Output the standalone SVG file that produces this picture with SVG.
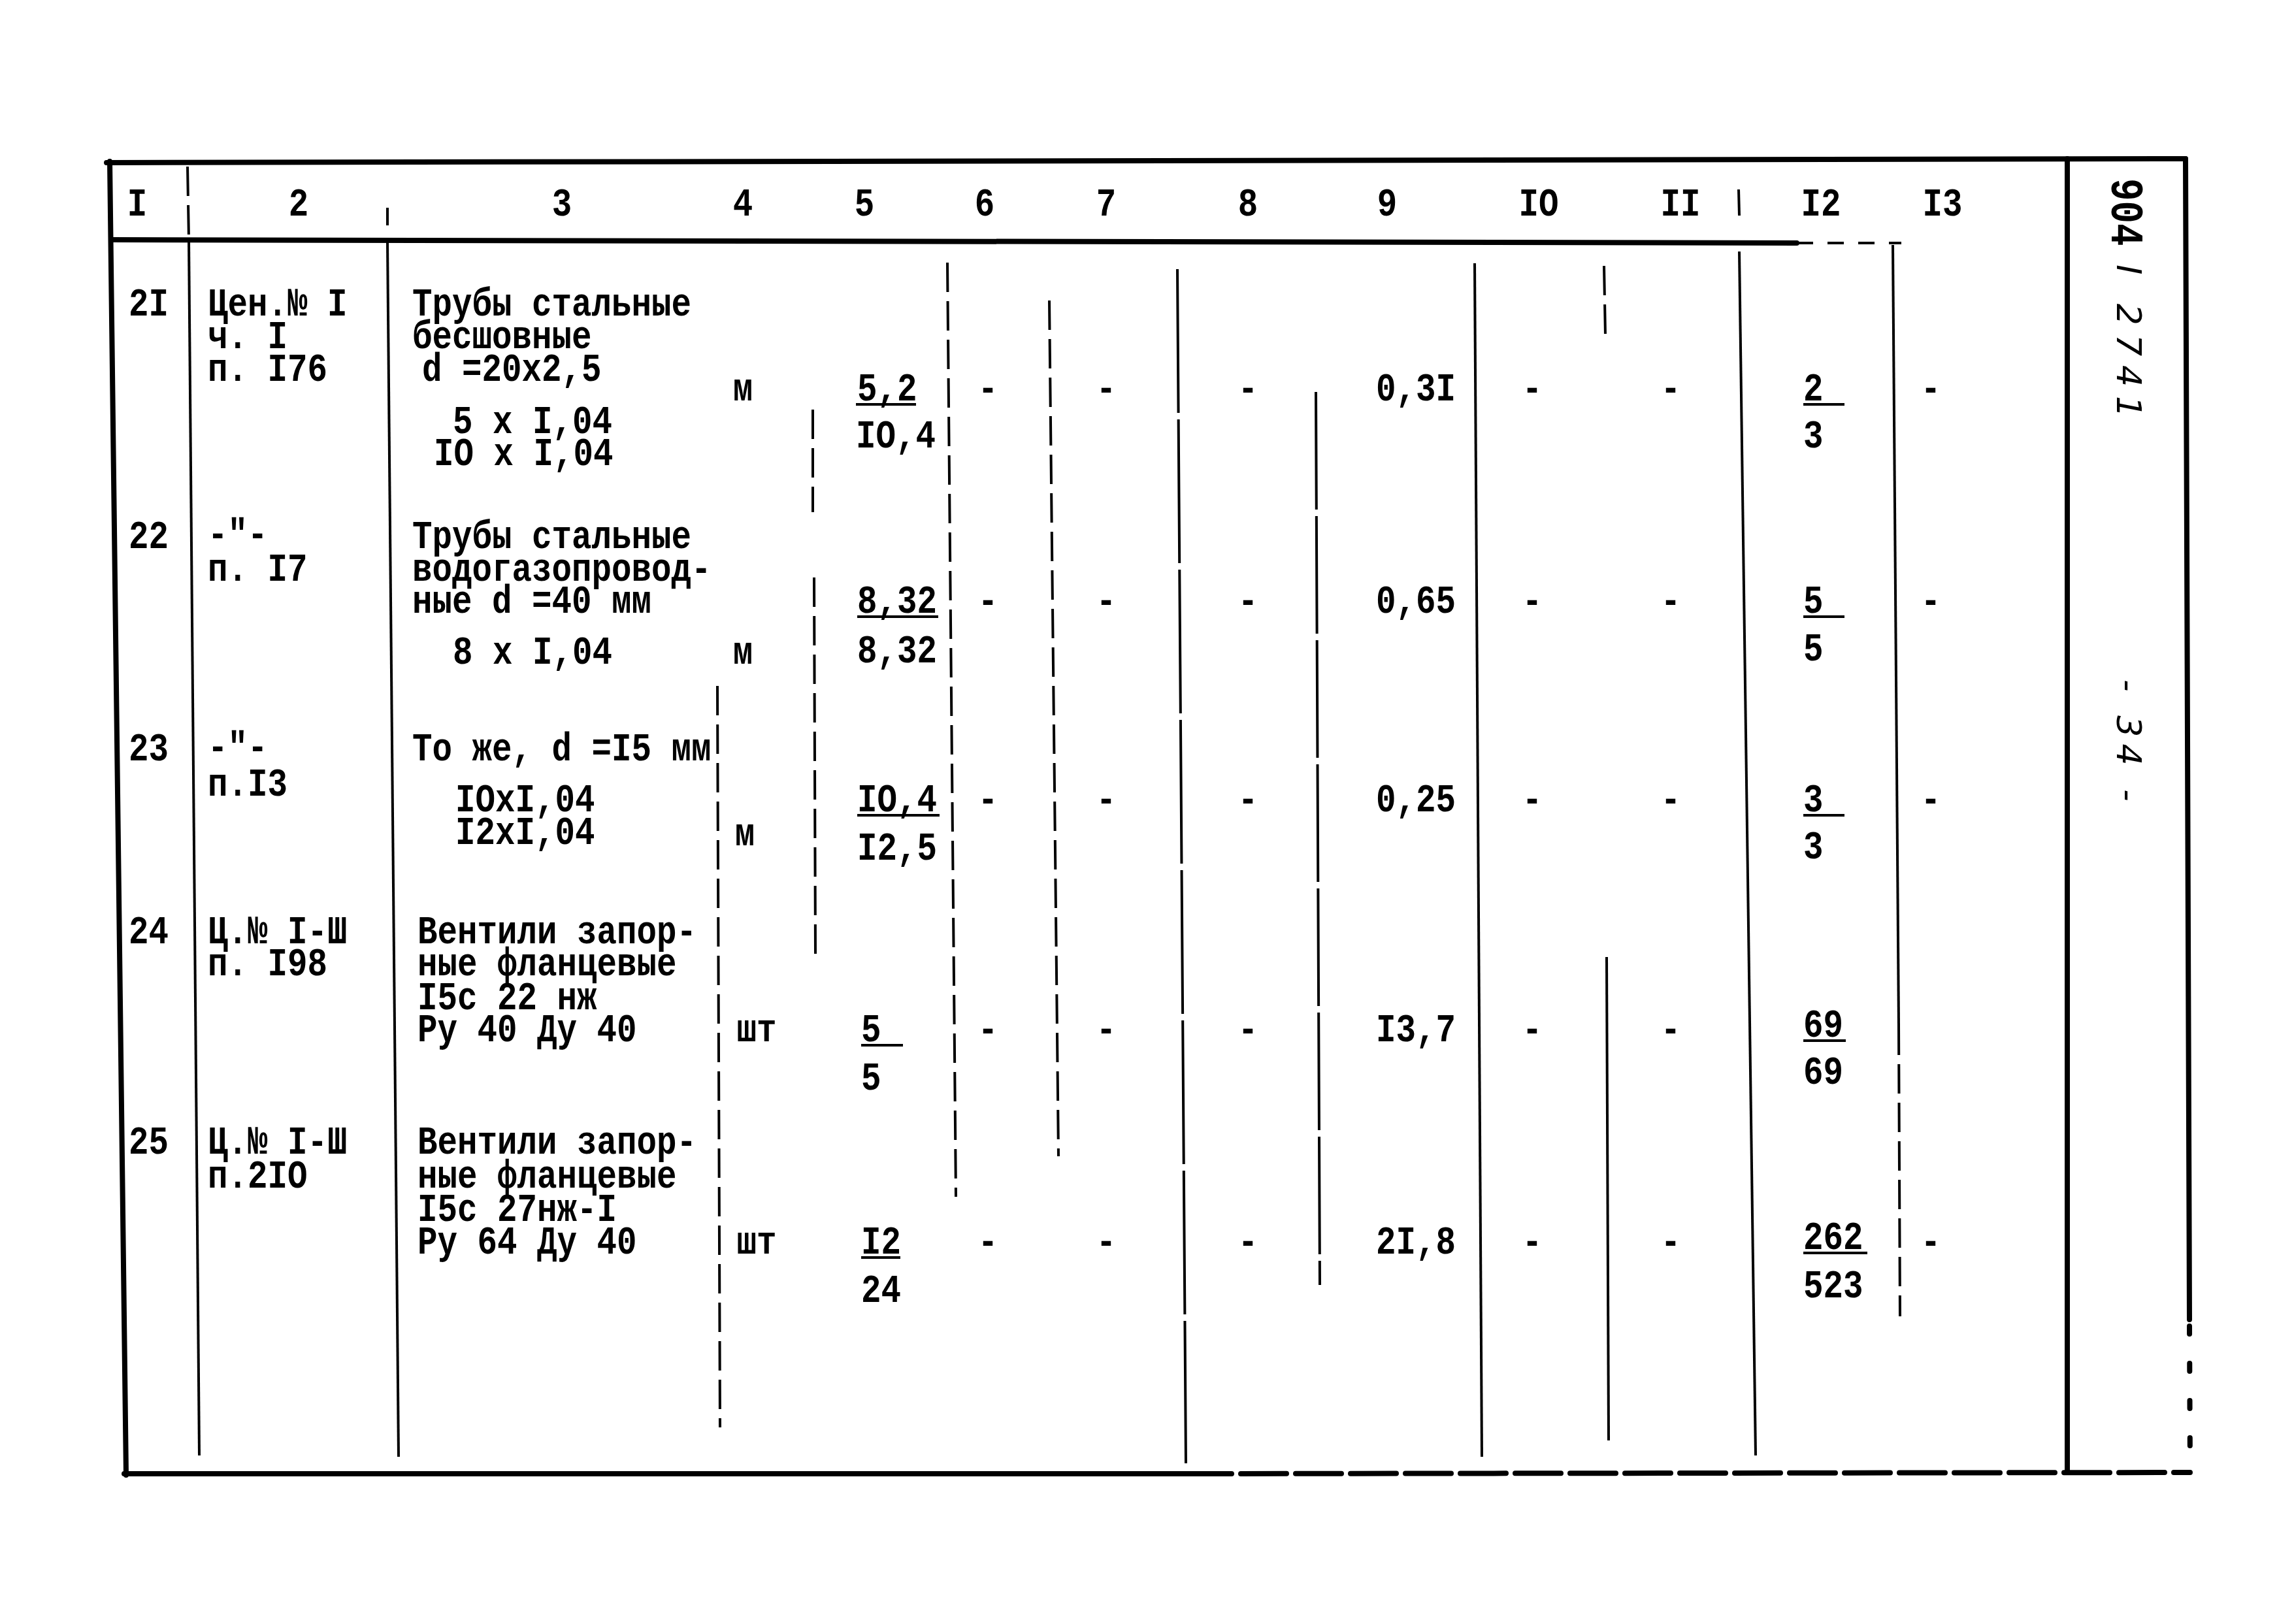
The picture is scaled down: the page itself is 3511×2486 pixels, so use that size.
<svg xmlns="http://www.w3.org/2000/svg" width="3511" height="2486" viewBox="0 0 3511 2486">
<style>
.t{font-family:"Liberation Mono","DejaVu Sans Mono",monospace;font-size:62px;font-weight:bold;fill:#000}
.m{text-anchor:middle}
.e{text-anchor:end}
.hw{font-family:"DejaVu Sans","Liberation Sans",sans-serif;font-size:52px;font-style:italic;font-weight:normal;fill:#000}
.fr{stroke:#000;stroke-width:8;fill:none;stroke-linecap:round}
.ln{stroke:#000;stroke-width:4;fill:none}
.ds{stroke:#000;stroke-width:4;fill:none;stroke-dasharray:45 14}
.ul{stroke:#000;stroke-width:4}
</style>
<rect width="3511" height="2486" fill="#fff"/>
<g id="grid">
<path class="fr" d="M163 249 L3345 243"/>
<path class="fr" d="M168 247 L193 2258"/>
<path class="fr" d="M190 2256 L1815 2256"/>
<path class="fr" d="M1815 2256 L3352 2254" stroke-dasharray="70 14" stroke-width="6"/>
<path class="fr" d="M3345 243 L3351 2020" stroke-width="7"/>
<path class="fr" d="M3351 2030 L3352 2250" stroke-dasharray="12 45" stroke-width="6"/>
<path class="fr" d="M3164 243 L3164 2252" stroke-width="7"/>
<path class="fr" d="M170 367 L2750 372" stroke-width="6"/>
<path class="ln" d="M2750 372 L2910 372" stroke-dasharray="25 22"/>
<path class="ds" d="M287 255 L289 367"/>
<path class="ln" d="M289 367 L305 2228"/>
<path class="ln" d="M593 318 L593 345"/>
<path class="ln" d="M593 370 L610 2230"/>
<path class="ds" d="M1244 627 L1244 784"/>
<path class="ds" d="M1246 884 L1248 1460"/>
<path class="ds" d="M1098 1050 L1102 2185"/>
<path class="ds" d="M1450 402 L1463 1832"/>
<path class="ds" d="M1606 460 L1620 1770" stroke-dasharray="60 30"/>
<path class="ln" d="M1802 412 L1815 2240" stroke-dasharray="220 10"/>
<path class="ln" d="M2014 600 L2020 1967" stroke-dasharray="180 10"/>
<path class="ln" d="M2257 403 L2268 2230"/>
<path class="ds" d="M2455 407 L2457 513"/>
<path class="ln" d="M2459 1465 L2462 2205"/>
<path class="ln" d="M2661 290 L2662 330"/>
<path class="ln" d="M2662 385 L2687 2228"/>
<path class="ln" d="M2897 375 L2906 1570"/>
<path class="ds" d="M2906 1570 L2908 2015" stroke-dasharray="20 40"/>
</g>
<g id="header">
<text class="t m" transform="translate(210 330) scale(.82 1)">I</text>
<text class="t m" transform="translate(457 330) scale(.82 1)">2</text>
<text class="t m" transform="translate(860 330) scale(.82 1)">3</text>
<text class="t m" transform="translate(1137 330) scale(.82 1)">4</text>
<text class="t m" transform="translate(1323 330) scale(.82 1)">5</text>
<text class="t m" transform="translate(1507 330) scale(.82 1)">6</text>
<text class="t m" transform="translate(1693 330) scale(.82 1)">7</text>
<text class="t m" transform="translate(1910 330) scale(.82 1)">8</text>
<text class="t m" transform="translate(2123 330) scale(.82 1)">9</text>
<text class="t m" transform="translate(2355 330) scale(.82 1)">IO</text>
<text class="t m" transform="translate(2572 330) scale(.82 1)">II</text>
<text class="t m" transform="translate(2787 330) scale(.82 1)">I2</text>
<text class="t m" transform="translate(2973 330) scale(.82 1)">I3</text>
</g>
<g id="row-21">
<text class="t" transform="translate(197 483) scale(.82 1)">2I</text>
<text class="t" transform="translate(318 483) scale(.82 1)">Цен.№ I</text>
<text class="t" transform="translate(318 533) scale(.82 1)">ч. I</text>
<text class="t" transform="translate(318 583) scale(.82 1)">п. I76</text>
<text class="t" transform="translate(631 483) scale(.82 1)">Трубы стальные</text>
<text class="t" transform="translate(631 533) scale(.82 1)">бесшовные</text>
<text class="t" transform="translate(646 583) scale(.82 1)">d =20x2,5</text>
<text class="t" transform="translate(693 663) scale(.82 1)">5 x I,04</text>
<text class="t" transform="translate(664 712) scale(.82 1)">IO x I,04</text>
<text class="t m" transform="translate(1137 613) scale(.82 1)">м</text>
<text class="t" transform="translate(1312 613) scale(.82 1)">5,2</text>
<line class="ul" x1="1310" y1="619" x2="1402" y2="619"/>
<text class="t" transform="translate(1310 685) scale(.82 1)">IO,4</text>
<text class="t m" transform="translate(1512 613) scale(.82 1)">-</text>
<text class="t m" transform="translate(1693 613) scale(.82 1)">-</text>
<text class="t m" transform="translate(1910 613) scale(.82 1)">-</text>
<text class="t e" transform="translate(2228 613) scale(.82 1)">0,3I</text>
<text class="t m" transform="translate(2345 613) scale(.82 1)">-</text>
<text class="t m" transform="translate(2557 613) scale(.82 1)">-</text>
<text class="t" transform="translate(2760 613) scale(.82 1)">2</text>
<line class="ul" x1="2760" y1="619" x2="2823" y2="619"/>
<text class="t" transform="translate(2760 685) scale(.82 1)">3</text>
<text class="t m" transform="translate(2955 613) scale(.82 1)">-</text>
</g>
<g id="row-22">
<text class="t" transform="translate(197 839) scale(.82 1)">22</text>
<text class="t" transform="translate(318 836) scale(.82 1)">-"-</text>
<text class="t" transform="translate(318 889) scale(.82 1)">п. I7</text>
<text class="t" transform="translate(631 839) scale(.82 1)">Трубы стальные</text>
<text class="t" transform="translate(631 889) scale(.82 1)">водогазопровод-</text>
<text class="t" transform="translate(631 938) scale(.82 1)">ные d =40 мм</text>
<text class="t" transform="translate(693 1016) scale(.82 1)">8 x I,04</text>
<text class="t m" transform="translate(1137 1016) scale(.82 1)">м</text>
<text class="t" transform="translate(1312 938) scale(.82 1)">8,32</text>
<line class="ul" x1="1312" y1="944" x2="1436" y2="944"/>
<text class="t" transform="translate(1312 1014) scale(.82 1)">8,32</text>
<text class="t m" transform="translate(1512 938) scale(.82 1)">-</text>
<text class="t m" transform="translate(1693 938) scale(.82 1)">-</text>
<text class="t m" transform="translate(1910 938) scale(.82 1)">-</text>
<text class="t e" transform="translate(2228 938) scale(.82 1)">0,65</text>
<text class="t m" transform="translate(2345 938) scale(.82 1)">-</text>
<text class="t m" transform="translate(2557 938) scale(.82 1)">-</text>
<text class="t" transform="translate(2760 938) scale(.82 1)">5</text>
<line class="ul" x1="2760" y1="944" x2="2823" y2="944"/>
<text class="t" transform="translate(2760 1011) scale(.82 1)">5</text>
<text class="t m" transform="translate(2955 938) scale(.82 1)">-</text>
</g>
<g id="row-23">
<text class="t" transform="translate(197 1164) scale(.82 1)">23</text>
<text class="t" transform="translate(318 1162) scale(.82 1)">-"-</text>
<text class="t" transform="translate(318 1218) scale(.82 1)">п.I3</text>
<text class="t" transform="translate(631 1164) scale(.82 1)">То же, d =I5 мм</text>
<text class="t" transform="translate(697 1242) scale(.82 1)">IOxI,04</text>
<text class="t" transform="translate(697 1292) scale(.82 1)">I2xI,04</text>
<text class="t m" transform="translate(1140 1294) scale(.82 1)">м</text>
<text class="t" transform="translate(1312 1242) scale(.82 1)">IO,4</text>
<line class="ul" x1="1312" y1="1248" x2="1438" y2="1248"/>
<text class="t" transform="translate(1312 1316) scale(.82 1)">I2,5</text>
<text class="t m" transform="translate(1512 1242) scale(.82 1)">-</text>
<text class="t m" transform="translate(1693 1242) scale(.82 1)">-</text>
<text class="t m" transform="translate(1910 1242) scale(.82 1)">-</text>
<text class="t e" transform="translate(2228 1242) scale(.82 1)">0,25</text>
<text class="t m" transform="translate(2345 1242) scale(.82 1)">-</text>
<text class="t m" transform="translate(2557 1242) scale(.82 1)">-</text>
<text class="t" transform="translate(2760 1242) scale(.82 1)">3</text>
<line class="ul" x1="2760" y1="1248" x2="2823" y2="1248"/>
<text class="t" transform="translate(2760 1314) scale(.82 1)">3</text>
<text class="t m" transform="translate(2955 1242) scale(.82 1)">-</text>
</g>
<g id="row-24">
<text class="t" transform="translate(197 1444) scale(.82 1)">24</text>
<text class="t" transform="translate(318 1444) scale(.82 1)">Ц.№ I-Ш</text>
<text class="t" transform="translate(318 1493) scale(.82 1)">п. I98</text>
<text class="t" transform="translate(639 1444) scale(.82 1)">Вентили запор-</text>
<text class="t" transform="translate(639 1493) scale(.82 1)">ные фланцевые</text>
<text class="t" transform="translate(639 1545) scale(.82 1)">I5с 22 нж</text>
<text class="t" transform="translate(639 1594) scale(.82 1)">Ру 40 Ду 40</text>
<text class="t m" transform="translate(1158 1594) scale(.82 1)">шт</text>
<text class="t" transform="translate(1318 1594) scale(.82 1)">5</text>
<line class="ul" x1="1318" y1="1600" x2="1382" y2="1600"/>
<text class="t" transform="translate(1318 1668) scale(.82 1)">5</text>
<text class="t m" transform="translate(1512 1594) scale(.82 1)">-</text>
<text class="t m" transform="translate(1693 1594) scale(.82 1)">-</text>
<text class="t m" transform="translate(1910 1594) scale(.82 1)">-</text>
<text class="t e" transform="translate(2228 1594) scale(.82 1)">I3,7</text>
<text class="t m" transform="translate(2345 1594) scale(.82 1)">-</text>
<text class="t m" transform="translate(2557 1594) scale(.82 1)">-</text>
<text class="t" transform="translate(2760 1587) scale(.82 1)">69</text>
<line class="ul" x1="2760" y1="1593" x2="2825" y2="1593"/>
<text class="t" transform="translate(2760 1659) scale(.82 1)">69</text>
</g>
<g id="row-25">
<text class="t" transform="translate(197 1766) scale(.82 1)">25</text>
<text class="t" transform="translate(318 1766) scale(.82 1)">Ц.№ I-Ш</text>
<text class="t" transform="translate(318 1818) scale(.82 1)">п.2IO</text>
<text class="t" transform="translate(639 1766) scale(.82 1)">Вентили запор-</text>
<text class="t" transform="translate(639 1818) scale(.82 1)">ные фланцевые</text>
<text class="t" transform="translate(639 1869) scale(.82 1)">I5с 27нж-I</text>
<text class="t" transform="translate(639 1919) scale(.82 1)">Ру 64 Ду 40</text>
<text class="t m" transform="translate(1158 1919) scale(.82 1)">шт</text>
<text class="t" transform="translate(1318 1919) scale(.82 1)">I2</text>
<line class="ul" x1="1318" y1="1925" x2="1378" y2="1925"/>
<text class="t" transform="translate(1318 1993) scale(.82 1)">24</text>
<text class="t m" transform="translate(1512 1919) scale(.82 1)">-</text>
<text class="t m" transform="translate(1693 1919) scale(.82 1)">-</text>
<text class="t m" transform="translate(1910 1919) scale(.82 1)">-</text>
<text class="t e" transform="translate(2228 1919) scale(.82 1)">2I,8</text>
<text class="t m" transform="translate(2345 1919) scale(.82 1)">-</text>
<text class="t m" transform="translate(2557 1919) scale(.82 1)">-</text>
<text class="t" transform="translate(2760 1912) scale(.82 1)">262</text>
<line class="ul" x1="2760" y1="1918" x2="2858" y2="1918"/>
<text class="t" transform="translate(2760 1986) scale(.82 1)">523</text>
<text class="t m" transform="translate(2955 1919) scale(.82 1)">-</text>
</g>
<g id="margin">
<text class="t" style="font-size:70px" transform="translate(3232 273) rotate(90) scale(.82 1)">904</text>
<text class="hw" style="letter-spacing:14px" transform="translate(3240 405) rotate(90)">I 2741</text>
<text class="hw" style="letter-spacing:10px" transform="translate(3240 1040) rotate(90)">- 34 -</text>
</g>
</svg>
